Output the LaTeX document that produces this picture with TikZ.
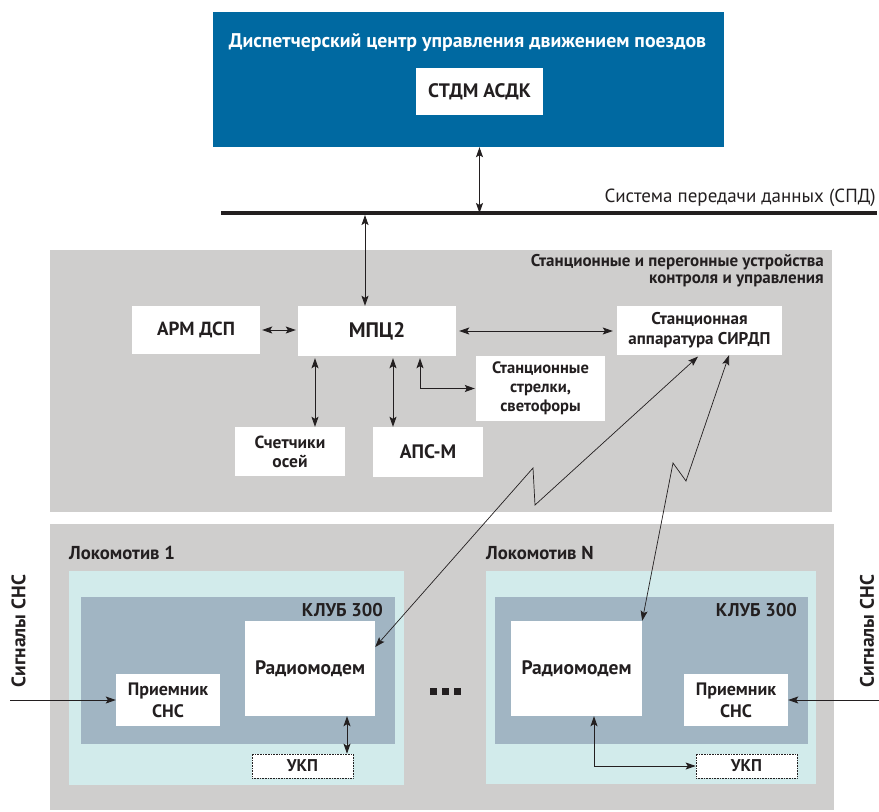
\documentclass[tikz,border=0pt]{standalone}
\usepackage{fontspec}
\setmainfont{PT Sans}
\usetikzlibrary{arrows.meta}
\definecolor{dcblue}{RGB}{0,105,161}
\definecolor{panelgray}{RGB}{207,206,205}
\definecolor{lococyan}{RGB}{210,235,235}
\definecolor{klubblue}{RGB}{161,181,195}
\definecolor{ink}{RGB}{35,31,32}
\newcommand{\fsz}[2]{\fontsize{#1}{#2}\selectfont}
\begin{document}
\begin{tikzpicture}[x=1pt,y=-1pt,
  >={Stealth[length=10pt,width=7pt,inset=2pt]},
  wbox/.style={fill=white,inner sep=0pt,align=center,text=ink},
  panel/.style={fill=panelgray,inner sep=0pt},
  ltbox/.style={fill=lococyan,inner sep=0pt},
  klubbox/.style={fill=klubblue,inner sep=0pt},
  ukpbox/.style={fill=white,draw=ink,densely dotted,line width=0.6pt,inner sep=0pt,text=ink},
  conn/.style={line width=0.9pt,draw=ink},
  zig/.style={line width=0.7pt,draw=ink},
  lbl/.style={text=ink,inner sep=0pt}]
\useasboundingbox (0,0) rectangle (879,812);

% dispatch centre
\node[fill=dcblue,minimum width=511,minimum height=135,inner sep=0pt] (dc) at (468.5,79.5) {};
\node[text=white,inner sep=0pt,font=\fsz{19.8}{22}\bfseries] (dct) at (467.5,43) {Диспетчерский центр управления движением поездов};
\node[wbox,minimum width=127,minimum height=47,font=\fsz{19.5}{22}\bfseries] (stdm) at (479.5,91.5) {СТДМ АСДК};

% bus
\coordinate (busL) at (221,213);
\coordinate (busR) at (877,213);
\draw[line width=4pt,ink] (busL) -- (busR);
\node[lbl,anchor=base east,font=\fsz{19}{22}] (spd) at (876,202) {Система передачи данных (СПД)};

% station panel
\node[panel,minimum width=782,minimum height=262] (st) at (441,381) {};
\node[lbl,anchor=north east,align=right,font=\fsz{17}{17.5}\bfseries] (stt) at (824,254) {Станционные и перегонные устройства\\контроля и управления};

\node[wbox,minimum width=128,minimum height=48,font=\fsz{19}{22}\bfseries] (arm) at (196,330) {АРМ ДСП};
\node[wbox,minimum width=158,minimum height=50,font=\fsz{21}{24}\bfseries] (mpc) at (377,331) {МПЦ2};
\node[wbox,minimum width=165,minimum height=49,font=\fsz{17}{20}\bfseries] (sirdp) at (699.5,330.5) {Станционная\\аппаратура СИРДП};
\node[wbox,minimum width=129,minimum height=65,font=\fsz{16.5}{19}\bfseries] (strel) at (540.5,388.5) {Станционные\\стрелки,\\светофоры};
\node[wbox,minimum width=110,minimum height=49,font=\fsz{17.5}{19}\bfseries] (sch) at (290,451.5) {Счетчики\\осей};
\node[wbox,minimum width=110,minimum height=50,font=\fsz{19.5}{22}\bfseries] (aps) at (428,452) {АПС-М};

% locomotive panel
\node[panel,minimum width=784,minimum height=286] (loc) at (442,667) {};
\node[ltbox,minimum width=335,minimum height=214] (lt1) at (236.5,678) {};
\node[ltbox,minimum width=330,minimum height=213] (ltn) at (651,677.5) {};
\node[klubbox,minimum width=314,minimum height=147] (kl1) at (238,670.5) {};
\node[klubbox,minimum width=313,minimum height=147] (kln) at (651.5,670.5) {};
\node[lbl,anchor=base west,font=\fsz{18.7}{22}\bfseries] (l1t) at (69,559) {Локомотив 1};
\node[lbl,anchor=base west,font=\fsz{18.7}{22}\bfseries] (lnt) at (486,559) {Локомотив N};
\node[lbl,anchor=base east,font=\fsz{18.5}{22}\bfseries] (k1t) at (383,616) {КЛУБ 300};
\node[lbl,anchor=base east,font=\fsz{18.5}{22}\bfseries] (knt) at (797,616) {КЛУБ 300};

\node[wbox,minimum width=130,minimum height=95,font=\fsz{19.5}{22}\bfseries] (rm1) at (310,668.5) {Радиомодем};
\node[wbox,minimum width=131,minimum height=95,font=\fsz{19.5}{22}\bfseries] (rmn) at (576.5,668.5) {Радиомодем};
\node[wbox,minimum width=104,minimum height=52,font=\fsz{18}{22}\bfseries] (prm1) at (168,700) {Приемник\\СНС};
\node[wbox,minimum width=104,minimum height=52,font=\fsz{18}{22}\bfseries] (prmn) at (736,700) {Приемник\\СНС};
\node[ukpbox,minimum width=101,minimum height=24,font=\fsz{17}{19}\bfseries] (ukp1) at (302.5,766) {УКП};
\node[ukpbox,minimum width=101,minimum height=24,font=\fsz{17}{19}\bfseries] (ukpn) at (746.5,766) {УКП};

\node[lbl,rotate=90,font=\fsz{19.5}{22}\bfseries] (sgl) at (18.5,631) {Сигналы СНС};
\node[lbl,rotate=90,font=\fsz{19.5}{22}\bfseries] (sgr) at (867,631) {Сигналы СНС};

\fill[ink] (430,688) rectangle +(7,7);
\fill[ink] (442,688) rectangle +(7,7);
\fill[ink] (454,688) rectangle +(7,7);

% connectors
\draw[conn,<->] (stdm |- dc.south) -- (stdm |- busL);
\coordinate (b1) at (365,213);
\draw[conn,<->,shorten <=2pt] (b1) -- (b1 |- mpc.north);
\draw[conn,<->,shorten <=2pt,shorten >=2pt] (arm.east) -- (arm.east -| mpc.west);
\draw[conn,<->,shorten <=3pt,shorten >=4pt] (mpc.east) -- (mpc.east -| sirdp.west);
\coordinate (c1) at (315,0);
\coordinate (c2) at (393,0);
\coordinate (c3) at (420,0);
\draw[conn,<->,shorten <=2pt] (mpc.south -| c1) -- (sch.north -| c1);
\draw[conn,<->,shorten <=2pt] (mpc.south -| c2) -- (aps.north -| c2);
\draw[conn,<->,shorten <=2pt,shorten >=1pt] (mpc.south -| c3) |- (strel.west);

\coordinate (z1a) at (533,468);
\coordinate (z1b) at (535,505);
\coordinate (z2a) at (673,463);
\coordinate (z2b) at (686,481);
\draw[zig,<->,shorten >=2pt] ([yshift=21.5pt]rm1.east) -- (z1a) -- (z1b) -- (sirdp.south);
\draw[zig,<->] (rmn.north east) -- (z2a) -- (z2b) -- ([xshift=29.5pt]sirdp.south);

\coordinate (sigL) at (10,700);
\coordinate (sigR) at (879,700);
\draw[conn,->] (sigL) -- (prm1.west);
\draw[conn,->] (sigR) -- (prmn.east);
\coordinate (c4) at (347,0);
\coordinate (c5) at (594,0);
\draw[conn,<->] (rm1.south -| c4) -- (ukp1.north -| c4);
\draw[conn,<->] (rmn.south -| c5) |- (ukpn.west);
\end{tikzpicture}
\end{document}
